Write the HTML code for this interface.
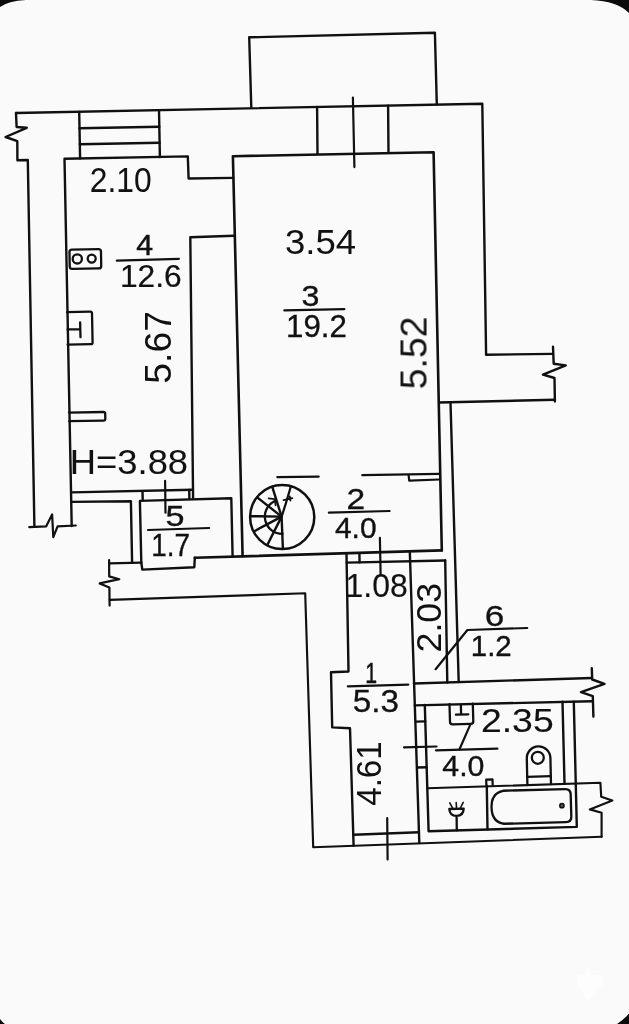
<!DOCTYPE html>
<html lang="en">
<head>
<meta charset="utf-8">
<title>Floor plan</title>
<style>
  html, body { margin: 0; padding: 0; background: #000; }
  body { width: 629px; height: 1024px; overflow: hidden; position: relative;
         font-family: "Liberation Sans", sans-serif; }
  #sheet { position: absolute; left: 0; top: 0; width: 629px; height: 1024px;
           background: #fafafa; overflow: hidden; }
  svg { position: absolute; left: 0; top: 0; display: block; }
  .walls path, .thin path, .fix path, .fix circle, .fix rect, .bars path {
      fill: none; stroke: #101010; stroke-linecap: round; stroke-linejoin: round; }
  .walls path { stroke-width: 2.4; }
  .thin path, .bars path { stroke-width: 2.2; }
  .fix path, .fix circle, .fix rect { stroke-width: 2.3; }
  .txt text { font-family: "Liberation Sans", sans-serif; font-size: 100px; fill: #101010;
             stroke: #101010; stroke-linejoin: round; }
  .txt { opacity: 0.995; }
</style>
</head>
<body>
<div id="sheet">
<svg width="629" height="1024" viewBox="0 0 629 1024">
  <!-- dark rounded corners of the photographed screen -->
  <g fill="#0b0b0b">
    <path d="M0 0 L26 0 Q8 1 0 7 Z"/>
    <path d="M629 0 L591 0 Q617 1 629 13 Z"/>
    <path d="M0 1024 L0 1019 Q2 1022 5 1024 Z"/>
    <path d="M629 1024 L629 1013.5 Q624 1019.5 617 1024 Z"/>
  </g>
  <!-- faint watermark -->
  <path d="M586 968 L590 968 L590 975 L603 975 L604 986 L596 990 L590 999 L586 999 L582 990 L577 986 L577 975 L586 975 Z" fill="#ffffff" opacity="0.5"/>
  <g>
  <g class="txt">
    <text transform="translate(89.72 192.19) scale(0.3184 0.3489)" style="stroke-width:0.09">2.10</text>
    <text transform="translate(136.28 255.46) scale(0.3025 0.2858)" style="stroke-width:1.62">4</text>
    <text transform="translate(119.95 286.68) scale(0.3170 0.3182)" style="stroke-width:0.78">12.6</text>
    <text transform="translate(170.70 383.69) rotate(-90) scale(0.3730 0.3681)" style="stroke-width:0.00">5.67</text>
    <text transform="translate(69.82 474.47) scale(0.3637 0.3456)" style="stroke-width:0.15">H=3.88</text>
    <text transform="translate(165.43 525.81) scale(0.3414 0.2988)" style="stroke-width:1.20">5</text>
    <text transform="translate(151.17 555.84) scale(0.2788 0.3068)" style="stroke-width:1.12">1.7</text>
    <text transform="translate(284.94 253.60) scale(0.3658 0.3521)" style="stroke-width:0.02">3.54</text>
    <text transform="translate(301.39 306.22) scale(0.3221 0.3020)" style="stroke-width:1.16">3</text>
    <text transform="translate(286.01 336.54) scale(0.3125 0.3085)" style="stroke-width:1.02">19.2</text>
    <text transform="translate(426.40 389.30) rotate(-90) scale(0.3741 0.3681)" style="stroke-width:0.00">5.52</text>
    <text transform="translate(346.51 509.22) scale(0.3349 0.3020)" style="stroke-width:1.14">2</text>
    <text transform="translate(334.94 538.21) scale(0.2997 0.2988)" style="stroke-width:1.29">4.0</text>
    <text transform="translate(345.58 596.72) scale(0.3199 0.3311)" style="stroke-width:0.48">1.08</text>
    <text transform="translate(441.19 652.48) rotate(-90) scale(0.3577 0.3505)" style="stroke-width:0.05">2.03</text>
    <text transform="translate(365.22 682.78) scale(0.2130 0.2907)" style="stroke-width:1.76">1</text>
    <text transform="translate(352.63 711.84) scale(0.3331 0.3068)" style="stroke-width:1.02">5.3</text>
    <text transform="translate(380.70 805.83) rotate(-90) scale(0.3321 0.3551)" style="stroke-width:0.00">4.61</text>
    <text transform="translate(484.72 626.32) scale(0.3511 0.3036)" style="stroke-width:1.07">6</text>
    <text transform="translate(470.79 656.00) scale(0.2941 0.2972)" style="stroke-width:1.34">1.2</text>
    <text transform="translate(480.88 732.25) scale(0.3741 0.3376)" style="stroke-width:0.31">2.35</text>
    <text transform="translate(442.32 775.72) scale(0.3029 0.3020)" style="stroke-width:1.20">4.0</text>
  </g>
  <g class="walls">
    <path d="M16.0 113.0 L482.3 103.7 L486.1 354.7 L552.8 353.9"/>
    <path d="M16.0 113.0 L16.6 127.0 L26.7 127.8 L5.6 137.0 L17.3 141.2 L17.4 160.3 L27.8 160.0 L34.4 526.6"/>
    <path d="M29.3 527.2 L46.2 526.3 L52.1 514.4 L53.3 537.2 L57.6 526.3 L75.8 525.5" style="stroke-width:2.2"/>
    <path d="M71.7 526.0 L64.5 158.7 L187.8 156.4 L188.6 178.5 L233.2 177.9"/>
    <path d="M79.2 112.0 L80.1 158.4"/>
    <path d="M159.0 110.3 L159.9 157.0"/>
    <path d="M79.5 128.3 L159.3 126.8"/>
    <path d="M79.8 144.3 L159.6 142.8"/>
    <path d="M251.3 107.8 L249.2 37.3 L434.9 32.7 L436.8 104.4"/>
    <path d="M317.1 107.0 L317.5 153.6"/>
    <path d="M388.1 105.6 L388.5 152.4"/>
    <path d="M242.6 556.2 L232.9 156.2 L433.6 152.2 L441.8 550.4" style="stroke-width:2.6"/>
    <path d="M194.8 557.8 L441.8 550.4" style="stroke-width:2.6"/>
    <path d="M233.9 235.8 L190.3 237.3 L193.1 498.7"/>
    <path d="M553.0 346.8 L553.7 363.8 L565.8 365.4 L543.0 374.7 L554.5 378.0 L554.9 401.4"/>
    <path d="M554.8 399.8 L439.0 402.5"/>
    <path d="M450.5 402.3 L458.7 682.0"/>
    <path d="M71.5 492.4 L193.0 489.7"/>
    <path d="M71.8 501.9 L130.9 501.2 L132.1 562.7"/>
    <path d="M142.5 491.2 L142.7 499.8"/>
    <path d="M189.2 490.0 L189.4 498.6"/>
    <path d="M141.3 562.6 L139.9 500.9 L231.3 498.3 L232.6 556.6"/>
    <path d="M141.3 562.6 L142.3 569.6 L194.3 567.3 L194.8 557.8"/>
    <path d="M109.2 563.3 L141.3 562.6" style="stroke-width:2.2"/>
    <path d="M109.1 560.0 L109.2 576.4 L119.3 579.2 L99.7 583.4 L109.4 587.6 L109.6 605.6" style="stroke-width:2.2"/>
    <path d="M109.6 599.9 L305.2 593.3 L313.2 847.2 L601.6 836.8" style="stroke-width:2.15"/>
    <path d="M346.5 553.4 L348.5 671.5 L331.0 672.3 L332.2 727.4 L350.0 728.2 L353.6 845.8"/>
    <path d="M346.7 562.6 L445.2 560.5"/>
    <path d="M359.4 553.3 L359.6 562.4"/>
    <path d="M409.8 551.3 L419.3 842.6"/>
    <path d="M445.2 560.5 L447.3 682.6"/>
    <path d="M353.6 834.7 L418.9 832.2"/>
    <path d="M413.9 683.5 L591.8 678.0"/>
    <path d="M414.8 705.4 L591.8 701.2"/>
    <path d="M591.8 668.2 L592.2 679.5 L604.5 683.8 L581.0 692.2 L592.8 696.1 L593.4 716.6"/>
    <path d="M424.8 705.0 L428.6 831.2 L576.8 826.9 L573.8 701.6"/>
    <path d="M562.5 701.8 L564.5 783.6"/>
    <path d="M415.9 721.6 L425.3 721.4"/>
    <path d="M417.3 767.5 L426.7 767.2"/>
    <path d="M427.3 788.2 L600.4 782.8 L601.2 796.7 L612.3 800.6 L589.8 809.4 L601.6 812.7 L601.6 836.8" style="stroke-width:2.15"/>
    <path d="M486.8 785.8 L487.5 829.4"/>
  </g>
  <g class="thin">
    <path d="M352.9 97.6 L354.4 167.1"/>
    <path d="M165.1 480.9 L165.5 512.7"/>
    <path d="M277.3 477.1 L318.7 476.6"/>
    <path d="M362.3 475.2 L439.2 473.8"/>
    <path d="M408.6 475.0 L409.2 480.6 L439.4 479.5"/>
    <path d="M379.9 537.8 L380.6 574.4"/>
    <path d="M387.2 818.2 L387.6 859.4"/>
    <path d="M486.4 785.6 L486.2 779.6 L492.5 779.4 L492.7 785.4"/>
    <path d="M404.0 747.3 L436.5 746.5"/>
  </g>
  <g class="bars">
    <path d="M116.8 260.6 L178.9 258.9"/>
    <path d="M148.0 530.0 L209.1 528.0"/>
    <path d="M284.3 310.3 L344.4 309.1"/>
    <path d="M328.9 512.7 L389.6 511.0"/>
    <path d="M347.8 686.3 L408.3 684.6"/>
    <path d="M435.6 669.2 L467.4 630.0 L527.2 628.0"/>
    <path d="M470.3 724.6 L459.5 749.2"/>
    <path d="M436.0 750.3 L497.4 748.7"/>
  </g>
  <g class="fix">
    <rect x="69.6" y="249.3" width="31.5" height="19.4" rx="2.5" transform="rotate(-1 85 259)"/>
    <circle cx="77.3" cy="258.9" r="4.6"/>
    <circle cx="91.7" cy="258.6" r="4"/>
    <path d="M67 312.2 L90.2 311.7 Q92 311.7 92 313.5 L92.6 342.4 Q92.6 344.2 90.8 344.2 L67.6 344.7"/>
    <path d="M67.6 329.4 L80.3 329.2 M80.1 322.4 L80.5 337.2"/>
    <path d="M69 412.6 L103.4 412 Q105.2 412 105.2 413.8 L105.3 418.8 Q105.3 420.6 103.5 420.6 L69.2 421.2"/>
    <path d="M449.5 704.2 L450 721.8 Q450 724.4 452.6 724.4 L470.8 723.9 Q473.4 723.8 473.3 721.2 L472.8 703.6"/>
    <path d="M460.9 705.5 L461.1 714.6 M455.9 714.7 L468.3 714.4"/>
    <path d="M527.4 785 L526.8 758.6 A11.8 11.8 0 0 1 550.4 757.9 L551 784.2"/>
    <path d="M527.2 776.8 L550.8 776.2"/>
    <circle cx="537.8" cy="757.8" r="6"/>
    <path transform="rotate(-1.6 531 806)" d="M503.5 790 L565.5 790 Q571 790 571 795.5 L571 817.5 Q571 823 565.5 823 L503.5 823 Q491.5 821 491.5 806.5 Q491.5 792 503.5 790 Z"/>
    <circle cx="561.9" cy="805.7" r="2" style="fill:#666;stroke-width:1.7"/>
    <path d="M456.6 815.9 L456.8 830.4 M449.3 809 Q449.8 816 456.6 815.9 Q463.4 815.8 463.7 808.6 Z"/>
    <path d="M449.8 802.9 L452.6 808.2 M456.2 802.6 L456.5 808 M463.2 802.4 L460.4 808" style="stroke-width:1.6"/>
    <circle cx="282.2" cy="517.0" r="32.1" style="stroke-width:2.5"/>
    <path d="M281.6 516.6 L272.2 486.6" style="stroke-width:2.4"/>
    <path d="M281.6 516.6 L257.2 497.4" style="stroke-width:2.4"/>
    <path d="M281.6 516.6 L250.2 516.2" style="stroke-width:2.4"/>
    <path d="M281.6 516.6 L254.3 531.2" style="stroke-width:2.4"/>
    <path d="M281.6 516.6 L267.2 545.2" style="stroke-width:2.4"/>
    <path d="M281.6 516.6 L282.9 549" style="stroke-width:2.4"/>
    <path d="M281.6 516.6 Q285.5 505 290.9 486.2"/>
    <path d="M274.3 501.2 A17.3 17.3 0 0 0 282.6 533.9"/>
    <path d="M268.6 498.4 L274.6 499.2 L275.6 505.4" style="stroke-width:1.7"/>
    <path d="M283.6 500.2 L292.4 498.2 M289.8 496.4 L290.4 500.6" style="stroke-width:1.7"/>
  </g>
  </g>
</svg>
</div>
</body>
</html>
